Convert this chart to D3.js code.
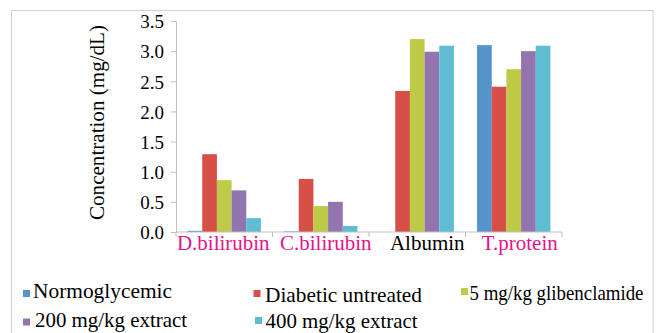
<!DOCTYPE html>
<html><head><meta charset="utf-8">
<script src="https://cdn.jsdelivr.net/npm/d3@7"></script>
<style>
body{margin:0;background:#fff}
svg{display:block}
svg text{font-family:"Times New Roman","Liberation Serif",Tinos,serif !important}
</style>
</head><body>
<svg id="c" width="657" height="333"></svg>
<script>
const categories = ["D.bilirubin", "C.bilirubin", "Albumin", "T.protein"];
const categoryColors = ["#E4158C", "#E4158C", "#000000", "#E4158C"];
const seriesNames = ["Normoglycemic", "Diabetic untreated", "5 mg/kg glibenclamide", "200 mg/kg extract", "400 mg/kg extract"];
const normoglycemic = [0.02, 0.01, 0, 3.1];
const diabeticUntreated = [1.29, 0.88, 2.34, 2.41];
const glibenclamide = [0.86, 0.43, 3.2, 2.7];
const extract200 = [0.69, 0.5, 2.99, 3.0];
const extract400 = [0.23, 0.1, 3.09, 3.09];
const yTicks = [0, 0.5, 1, 1.5, 2, 2.5, 3, 3.5];
const colors = ["#5593CB", "#D65047", "#BDCB48", "#9274AE", "#5EBDD3"];

const series = [normoglycemic, diabeticUntreated, glibenclamide, extract200, extract400];
const svg = d3.select("#c");
function serif(sel, size) {
  return sel.style("font-size", size + "px");
}

svg.append("rect").attr("x", 11.5).attr("y", 10.5).attr("width", 641.5).attr("height", 340)
  .attr("fill", "none").attr("stroke", "#D0D0D0");

const x0 = 176, x1 = 562, yTop = 21, yBot = 232;
const x = d3.scaleBand().domain(categories).range([x0, x1]).paddingInner(0.24).paddingOuter(0.12);
const xs = d3.scaleBand().domain(d3.range(5)).range([0, x.bandwidth()]);
const y = d3.scaleLinear().domain([0, 3.5]).range([yBot, yTop]);

const g = svg.append("g");
series.forEach((vals, si) => {
  g.selectAll(null).data(vals).enter().append("rect")
    .attr("x", (d, i) => x(categories[i]) + xs(si))
    .attr("width", xs.bandwidth())
    .attr("y", d => y(d))
    .attr("height", d => yBot - y(d))
    .attr("fill", colors[si]);
});

// Y axis
const ya = svg.append("g").attr("transform", `translate(${x0},0)`)
  .call(d3.axisLeft(y).tickValues(yTicks).tickFormat(d3.format(".1f")).tickSize(5).tickSizeOuter(0).tickPadding(7));
ya.attr("font-family", null).attr("font-size", null);
ya.select(".domain").attr("stroke", "#BFBFBF");
ya.selectAll(".tick line").attr("stroke", "#BFBFBF");
serif(ya.selectAll("text"), 19).attr("fill", "#000").attr("dy", "0.36em");

// X axis
const xa = svg.append("g").attr("transform", `translate(0,${yBot})`);
xa.append("line").attr("x1", x0).attr("x2", x1).attr("stroke", "#BFBFBF");
const step = (x1 - x0) / categories.length;
d3.range(categories.length + 1).forEach(i => {
  xa.append("line").attr("x1", x0 + i * step).attr("x2", x0 + i * step).attr("y1", 0).attr("y2", 5).attr("stroke", "#BFBFBF");
});
const labelDx = [-1, 5, 10, 6];
serif(xa.selectAll(null).data(categories).enter().append("text"), 21)
  .attr("x", (d, i) => x(d) + x.bandwidth() / 2 + labelDx[i]).attr("y", 18)
  .attr("text-anchor", "middle")
  .attr("fill", (d, i) => categoryColors[i]).text(d => d);

// Y title
serif(svg.append("text"), 21).attr("transform", "translate(104,122.5) rotate(-90)")
  .attr("text-anchor", "middle").attr("textLength", 195).attr("lengthAdjust", "spacingAndGlyphs")
  .text("Concentration (mg/dL)");

// Legend
const legendMark = [[23, 290], [253.5, 290], [461, 288], [23, 318.5], [255, 317]];
const legendText = [[33, 298, 139], [265, 302, 157], [469.5, 300, 174], [35, 327, 152], [265.5, 328, 152]];
const lg = svg.append("g");
seriesNames.forEach((n, i) => {
  const [mx, my] = legendMark[i];
  const [tx, ty, tw] = legendText[i];
  lg.append("rect").attr("x", mx).attr("y", my).attr("width", 7).attr("height", 7).attr("fill", colors[i]);
  serif(lg.append("text"), 21).attr("x", tx).attr("y", ty)
    .attr("textLength", tw).attr("lengthAdjust", "spacingAndGlyphs").text(n);
});
</script>
</body></html>
